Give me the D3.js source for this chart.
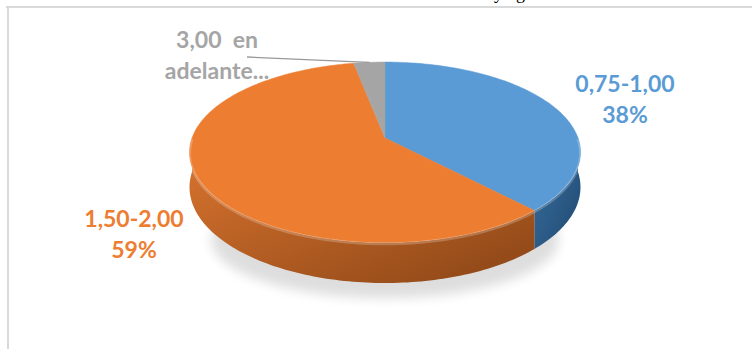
<!DOCTYPE html>
<html>
<head>
<meta charset="utf-8">
<script src="https://cdn.jsdelivr.net/npm/d3@7"></script>
<style>
  body { margin: 0; background: #fff; }
  .lbl { font-family: Lato, "Open Sans", sans-serif; font-weight: bold; white-space: pre; }
</style>
</head>
<body>
<div class="main"></div>
<script>
// Data
const categories = ["0,75-1,00", "1,50-2,00", "3,00 en adelante..."]
const percents = [38, 59, 3]
const colors = ["#5B9BD5", "#ED7D31", "#A5A5A5"]
const sideColors = [["#3a6f9f", "#1f4a72"], ["#dc7630", "#8a4516"], ["#8a8a8a", "#6a6a6a"]]
// what the labels actually show (the small one is cut off by the chart)
const labelText = [["0,75-1,00", "38%"], ["1,50-2,00", "59%"], ["3,00  en", "adelante..."]]

const width = 752
const height = 349
// pie seen in perspective: R = radius, ry = vertical squash, D = camera distance
const pie3d = ({cx: 385, cy: 138, R: 193, ry: 88, D: 6.3, depth: 34})
// label anchors (centre x, first baseline)
const labelPos = [[625, 92], [134, 227], [217, 48]]
const lineGap = 31

const svg = d3.select(".main").append("svg")
    .attr("width", width)
    .attr("height", height)

const defs = svg.append("defs")
defs.append("filter")
    .attr("id", "blur")
    .attr("x", "-30%").attr("y", "-30%")
    .attr("width", "160%").attr("height", "160%")
  .append("feGaussianBlur")
    .attr("stdDeviation", 6)

sideColors.forEach((c, i) => {
    const g = defs.append("linearGradient")
        .attr("id", "side" + i)
        .attr("x1", 0).attr("y1", 0)
        .attr("x2", 1).attr("y2", 1)
    g.append("stop").attr("offset", "0%").attr("stop-color", c[0])
    g.append("stop").attr("offset", "100%").attr("stop-color", c[1])
})

// frame of the original chart area
svg.append("line")
    .attr("x1", 6).attr("x2", width)
    .attr("y1", 7).attr("y2", 7)
    .attr("stroke", "#d9d9d9").attr("stroke-width", 2)
svg.append("line")
    .attr("x1", 8).attr("x2", 8)
    .attr("y1", 6).attr("y2", height)
    .attr("stroke", "#d9d9d9").attr("stroke-width", 2)

// bits of the caption above the chart
svg.append("text").text("y")
    .attr("x", 494).attr("y", -1)
    .attr("font-family", "Liberation Serif").attr("font-size", 18)
svg.append("text").text("g")
    .attr("x", 516).attr("y", -1)
    .attr("font-family", "Liberation Serif").attr("font-size", 18)

const arcs = d3.pie().sort(null)
    .startAngle(0).endAngle(2 * Math.PI)(percents)

// angle (clockwise from 12 o'clock) -> screen point
function proj(a, dz = 0) {
    const X = Math.sin(a), Z = -Math.cos(a)
    const s = pie3d.D / (pie3d.D - Z)
    return [pie3d.cx + pie3d.R * X * s, pie3d.cy + pie3d.ry * Z * s + dz * s]
}
function rim(a0, a1, dz = 0) {
    const n = Math.max(2, Math.ceil(Math.abs(a1 - a0) / 0.02))
    return d3.range(n + 1).map(k => proj(a0 + (a1 - a0) * k / n, dz))
}
const line = d3.line()

// shadow under the pie
svg.append("ellipse")
    .attr("cx", pie3d.cx)
    .attr("cy", pie3d.cy + 102)
    .attr("rx", pie3d.R * 0.9)
    .attr("ry", pie3d.ry * 0.66)
    .attr("fill", "#000")
    .attr("opacity", 0.13)
    .attr("filter", "url(#blur)")

const chart = svg.append("g")

// side walls, only the front half shows
arcs.forEach((d, i) => {
    const s = Math.max(d.startAngle, Math.PI / 2)
    const e = Math.min(d.endAngle, 3 * Math.PI / 2)
    if (s >= e) return
    const pts = rim(s, e).concat(rim(e, s, pie3d.depth))
    chart.append("path")
        .attr("d", line(pts) + "Z")
        .attr("fill", `url(#side${i})`)
})

// top faces
arcs.forEach((d, i) => {
    const pts = [[pie3d.cx, pie3d.cy]].concat(rim(d.startAngle, d.endAngle))
    chart.append("path")
        .attr("d", line(pts) + "Z")
        .attr("fill", colors[i])
        .attr("stroke", colors[i])
        .attr("stroke-width", 0.5)
})

// light rim along the front edge
chart.append("path")
    .attr("d", line(rim(Math.PI / 2, 3 * Math.PI / 2, 1)))
    .attr("fill", "none")
    .attr("stroke", "#fff")
    .attr("stroke-opacity", 0.22)
    .attr("stroke-width", 3)

// leader line for the small slice
const small = arcs[2]
const tip = proj((small.startAngle + small.endAngle) / 2)
svg.append("line")
    .attr("x1", 247).attr("y1", 57)
    .attr("x2", tip[0]).attr("y2", tip[1])
    .attr("stroke", "#999").attr("stroke-width", 1.3)

// labels
labelText.forEach((lines, i) => {
    const t = svg.append("text")
        .attr("class", "lbl")
        .attr("text-anchor", "middle")
        .attr("font-size", 23)
        .attr("fill", colors[i])
    lines.forEach((l, j) => {
        t.append("tspan")
            .attr("x", labelPos[i][0])
            .attr("y", labelPos[i][1] + j * lineGap)
            .text(l)
    })
})
</script>
</body>
</html>
